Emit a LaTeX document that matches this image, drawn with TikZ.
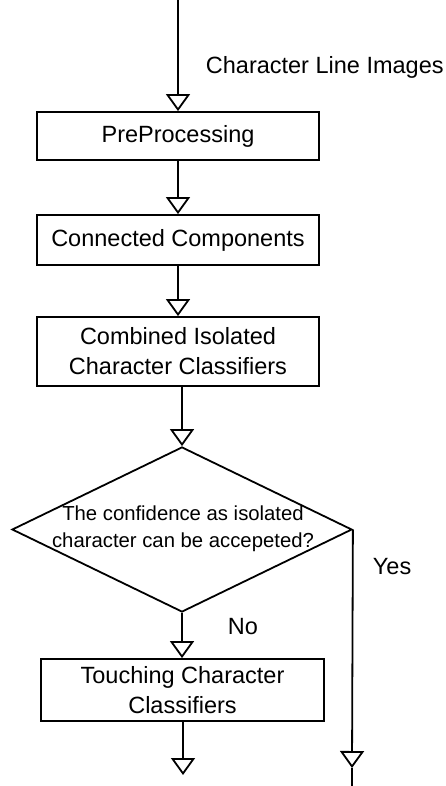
\documentclass[tikz,border=0pt]{standalone}
\usepackage{fontspec}
\setmainfont{Liberation Sans}
\usetikzlibrary{arrows.meta,shapes.geometric}
\begin{document}
\begin{tikzpicture}[x=1pt,y=-1pt,
  line width=1.8pt,
  flow/.style={-{Triangle[open,width=24pt,length=17pt]}},
  procbox/.style={draw, rectangle, minimum width=282pt, inner sep=0pt,
    align=center, font=\fontsize{23.5}{30}\selectfont},
  decision/.style={draw, diamond, minimum width=340pt, minimum height=165pt, inner sep=0pt},
  dectext/.style={align=center, inner sep=0pt, font=\fontsize{20.3}{27}\selectfont},
  lbl/.style={anchor=west, inner sep=0pt, font=\fontsize{23.5}{28}\selectfont}]
\useasboundingbox (0,0) rectangle (446,786);

% process boxes
\node[procbox, minimum height=48pt] (pre) at (178,136) {PreProcessing};
\node[procbox, minimum height=50pt] (cc) at (178,240) {Connected Components};
\node[procbox, minimum height=69pt] (comb) at (178,351.5) {Combined Isolated\\Character Classifiers};
\node[decision] (dec) at (182,529.5) {};
\node[dectext] (dectxt) at (183,529) {The confidence as isolated\\character can be accepeted?};
\node[procbox, minimum width=283pt, minimum height=62pt] (touch) at (182.5,690) {Touching Character\\Classifiers};

% free ends
\coordinate (in) at (178,0);
\coordinate (noend) at (183,775);
\coordinate (yestip) at (352,768);
\coordinate (yesout) at (352,786);

% connectors
\draw[flow] (in) -- (pre.north);
\draw[flow] (pre.south) -- (cc.north);
\draw[flow] (cc.south) -- (comb.north);
\draw[flow] (comb.south -| dec.north) -- (dec.north);
\draw[flow] (dec.south) -- (touch.north -| dec.south);
\draw[flow] (touch.south -| noend) -- (noend);
\draw[flow] (dec.east) -- (yestip);
\draw (yestip) -- (yesout);

% labels
\node[lbl] (inlbl) at (205,67) {Character Line Images};
\node[lbl] (yeslbl) at (372,567) {Yes};
\node[lbl] (nolbl) at (227,627) {No};
\end{tikzpicture}
\end{document}
